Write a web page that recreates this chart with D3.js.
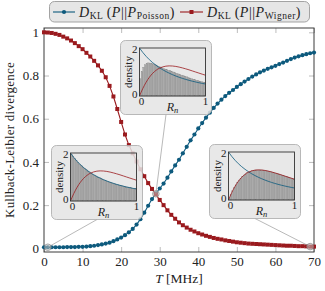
<!DOCTYPE html>
<html><head><meta charset="utf-8">
<script src="https://cdn.jsdelivr.net/npm/d3@7"></script>
<style>body{margin:0;background:#fff}svg{display:block}</style>
</head><body><svg id="c" width="325" height="291"></svg>
<script>
// ---- data ----
const temps = d3.range(0, 71); // T [MHz], step 1
const klPoisson = [0.005,0.005,0.005,0.005,0.005,0.005,0.006,0.006,0.006,0.007,0.007,0.008,0.010,0.012,0.015,0.018,0.022,0.026,0.033,0.041,0.050,0.061,0.074,0.090,0.110,0.135,0.165,0.197,0.228,0.255,0.277,0.300,0.327,0.356,0.384,0.410,0.440,0.470,0.500,0.527,0.555,0.580,0.605,0.628,0.650,0.670,0.688,0.705,0.720,0.733,0.747,0.760,0.772,0.784,0.795,0.805,0.815,0.823,0.831,0.838,0.845,0.853,0.860,0.868,0.876,0.883,0.889,0.894,0.899,0.903,0.906];
const klWigner = [1.000,0.999,0.997,0.993,0.988,0.980,0.972,0.962,0.950,0.936,0.922,0.905,0.888,0.868,0.847,0.822,0.792,0.752,0.703,0.645,0.585,0.527,0.478,0.440,0.402,0.366,0.334,0.302,0.275,0.250,0.224,0.200,0.176,0.155,0.137,0.120,0.107,0.096,0.086,0.078,0.070,0.064,0.058,0.053,0.048,0.044,0.041,0.037,0.034,0.031,0.028,0.026,0.024,0.022,0.021,0.020,0.019,0.018,0.017,0.016,0.015,0.014,0.013,0.012,0.012,0.011,0.010,0.010,0.009,0.008,0.008];
const xTicks = [0,10,20,30,40,50,60,70];
const yTicks = [0,0.2,0.4,0.6,0.8,1];
const yTickLabels = ["0","0.2","0.4","0.6","0.8","1"];
// inset densities
const rGrid = [0,0.05,0.1,0.15,0.2,0.25,0.3,0.35,0.4,0.45,0.5,0.55,0.6,0.65,0.7,0.75,0.8,0.85,0.9,0.95,1];
const poissonDensity = [2,1.814,1.653,1.512,1.389,1.28,1.183,1.097,1.02,0.951,0.889,0.833,0.781,0.735,0.692,0.653,0.617,0.584,0.554,0.526,0.5];
const wignerDensity = [0,0.312,0.572,0.782,0.946,1.069,1.156,1.212,1.244,1.255,1.25,1.232,1.205,1.171,1.132,1.09,1.045,1.0,0.955,0.91,0.866];
const histT1 = [1.95,1.87,1.77,1.69,1.62,1.54,1.48,1.42,1.36,1.31,1.25,1.21,1.16,1.12,1.08,1.04,1.00,0.97,0.93,0.90,0.87,0.85,0.82,0.79,0.77,0.75,0.72,0.70,0.68,0.66,0.64,0.63,0.61,0.59,0.58,0.56,0.55,0.53,0.52,0.51];
const histT29 = [0.72,1.02,1.20,1.30,1.36,1.38,1.37,1.35,1.33,1.30,1.27,1.24,1.21,1.18,1.15,1.12,1.10,1.07,1.05,1.02,1.00,0.97,0.95,0.92,0.90,0.87,0.85,0.82,0.80,0.77,0.75,0.72,0.70,0.68,0.66,0.64,0.62,0.60,0.58,0.56];
const histT69 = [0.08,0.24,0.38,0.51,0.63,0.73,0.83,0.91,0.98,1.04,1.09,1.14,1.17,1.20,1.22,1.24,1.25,1.25,1.25,1.25,1.25,1.24,1.23,1.21,1.20,1.18,1.16,1.14,1.12,1.10,1.08,1.06,1.03,1.01,0.99,0.97,0.94,0.92,0.90,0.88];
const insetTemps = [1, 29, 69];

// ---- styles ----
const FONT = "'Liberation Serif', 'Times New Roman', serif";
const BLUE = "#0d5a7d", RED = "#9a1a1e";
const svg = d3.select("#c");
const x = d3.scaleLinear().domain([0,70]).range([44,314]);
const y = d3.scaleLinear().domain([-0.017,1.02]).range([252,28]);

function styleAxis(g){ g.attr("font-family",null).attr("font-size",null); g.select(".domain").remove(); g.selectAll(".tick line").attr("stroke","#bdbdbd"); g.selectAll("text").style("font-family",FONT).style("font-size","13px").attr("fill","#222"); }
svg.append("g").attr("transform","translate(0,252)").call(d3.axisBottom(x).tickValues(xTicks).tickSizeInner(-5).tickSizeOuter(0).tickPadding(5)).call(styleAxis);
svg.append("g").attr("transform","translate(0,28)").call(d3.axisTop(x).tickValues(xTicks).tickSizeInner(-5).tickSizeOuter(0).tickFormat("")).call(styleAxis);
svg.append("g").attr("transform","translate(44,0)").call(d3.axisLeft(y).tickValues(yTicks).tickFormat((d,i)=>yTickLabels[i]).tickSizeInner(-5).tickSizeOuter(0).tickPadding(5)).call(styleAxis);
svg.append("g").attr("transform","translate(314,0)").call(d3.axisRight(y).tickValues(yTicks).tickSizeInner(-5).tickSizeOuter(0).tickFormat("")).call(styleAxis);
svg.append("rect").attr("x",44).attr("y",28).attr("width",270).attr("height",224).attr("fill","none").attr("stroke","#3a3a3a").attr("stroke-width",1);

function txt(sel){ return sel.append("text").style("font-family",FONT).attr("fill","#222"); }
txt(svg).attr("x",179).attr("y",283).attr("text-anchor","middle").style("font-size","13.5px")
  .call(t=>{t.append("tspan").style("font-style","italic").text("T"); t.append("tspan").text(" [MHz]");});
const yl = txt(svg).attr("transform","translate(13.5,140) rotate(-90)").attr("text-anchor","middle").style("font-size","13px").text("Kullback-Leibler divergence");
{ const w = yl.node().getComputedTextLength(); if (w > 0 && w < 156) yl.style("letter-spacing", ((156-w)/27)+"px"); }

// series
const line = d3.line().x((d,i)=>x(temps[i])).y(d=>y(d));
svg.append("path").datum(klPoisson).attr("d",line).attr("fill","none").attr("stroke",BLUE).attr("stroke-width",1.1);
svg.append("g").selectAll("circle").data(klPoisson).join("circle").attr("cx",(d,i)=>x(temps[i])).attr("cy",d=>y(d)).attr("r",2.1).attr("fill",BLUE);
svg.append("path").datum(klWigner).attr("d",line).attr("fill","none").attr("stroke",RED).attr("stroke-width",1.1);
svg.append("g").selectAll("rect").data(klWigner).join("rect").attr("x",(d,i)=>x(temps[i])-2).attr("y",d=>y(d)-2).attr("width",4).attr("height",4).attr("fill",RED);

// legend
function legendText(g, x0, sub, target){
  const t = txt(g).attr("x",x0).attr("y",16.5).style("font-size","14px");
  t.append("tspan").style("font-style","italic").text("D");
  t.append("tspan").attr("dy",2.5).style("font-size","9.5px").text("KL");
  t.append("tspan").attr("dy",-2.5).text("\u2009(");
  t.append("tspan").style("font-style","italic").text("P");
  t.append("tspan").text("||");
  t.append("tspan").style("font-style","italic").text("P");
  t.append("tspan").attr("dy",2.5).style("font-size","9.5px").text(sub);
  t.append("tspan").attr("dy",-2.5).text(")");
  const w = t.node().getComputedTextLength();
  const n = t.text().length;
  if (w > 0 && w < target) t.style("letter-spacing", ((target-w)/n)+"px");
}
const lg = svg.append("g");
lg.append("rect").attr("x",49.5).attr("y",1.5).attr("width",260).attr("height",20.5).attr("rx",5).attr("fill","#e6e6e6").attr("stroke","#9a9a9a").attr("stroke-width",0.9);
lg.append("line").attr("x1",53).attr("x2",75).attr("y1",12).attr("y2",12).attr("stroke",BLUE).attr("stroke-width",1.1);
lg.append("circle").attr("cx",64).attr("cy",12).attr("r",2.1).attr("fill",BLUE);
legendText(lg, 79, "Poisson", 96);
lg.append("line").attr("x1",180).attr("x2",203).attr("y1",12).attr("y2",12).attr("stroke",RED).attr("stroke-width",1.1);
lg.append("rect").attr("x",189.5).attr("y",10).attr("width",4).attr("height",4).attr("fill",RED);
legendText(lg, 207, "Wigner", 94);

// insets
const insetBoxes = [[51.5,145.5],[120.5,40.5],[209.5,144.5]];
const insetHists = [histT1, histT29, histT69];
function drawInset(k){
  const [bx,by] = insetBoxes[k], hist = insetHists[k], T = insetTemps[k];
  const ti = temps.indexOf(T);
  const px = x(T);
  const val = T===29 ? (klPoisson[ti]+klWigner[ti])/2 : (T<10 ? klPoisson[ti] : klWigner[ti]);
  const cy = y(val);
  svg.append("line").attr("x1",bx+45.5).attr("y1",by+74).attr("x2",px).attr("y2",cy).attr("stroke","#8a8a8a").attr("stroke-width",0.6);
  svg.append("circle").attr("cx",px).attr("cy",cy).attr("r",3.3).attr("fill","rgba(200,200,200,0.5)").attr("stroke","#888").attr("stroke-width",0.7);
  const g = svg.append("g");
  g.append("rect").attr("x",bx).attr("y",by).attr("width",91).attr("height",74).attr("rx",5).attr("fill","#e4e4e4").attr("fill-opacity",0.85).attr("stroke","#a8a8a8").attr("stroke-width",0.8);
  const ix = bx+19, iy = by+7.5, iw = 66, ih = 48;
  const xs = d3.scaleLinear().domain([0,1]).range([ix,ix+iw]);
  const ys = d3.scaleLinear().domain([0,2]).range([iy+ih,iy]);
  const n = hist.length;
  g.append("g").selectAll("rect").data(hist).join("rect")
    .attr("x",(d,i)=>xs(i/n)).attr("width",xs(1/n)-xs(0)).attr("y",d=>ys(d)).attr("height",d=>ys(0)-ys(d))
    .attr("fill","#ababab").attr("stroke","#8c8c8c").attr("stroke-width",0.35);
  const cl = d3.line().x((d,i)=>xs(rGrid[i])).y(d=>ys(d)).curve(d3.curveMonotoneX);
  g.append("path").datum(poissonDensity).attr("d",cl).attr("fill","none").attr("stroke",BLUE).attr("stroke-width",0.8);
  g.append("path").datum(wignerDensity).attr("d",cl).attr("fill","none").attr("stroke",RED).attr("stroke-width",0.8);
  g.append("rect").attr("x",ix).attr("y",iy).attr("width",iw).attr("height",ih).attr("fill","none").attr("stroke","#333").attr("stroke-width",0.9);
  const fs = "11px";
  txt(g).attr("x",ix-2).attr("y",iy+5).attr("text-anchor","end").style("font-size",fs).text("2");
  txt(g).attr("x",ix-2).attr("y",iy+ih+2).attr("text-anchor","end").style("font-size",fs).text("0");
  txt(g).attr("x",xs(0)+2).attr("y",iy+ih+8.5).attr("text-anchor","middle").style("font-size",fs).text("0");
  txt(g).attr("x",xs(1)).attr("y",iy+ih+8.5).attr("text-anchor","middle").style("font-size",fs).text("1");
  txt(g).attr("transform",`translate(${bx+11},${iy+ih/2}) rotate(-90)`).attr("text-anchor","middle").style("font-size","11px").text("density");
  txt(g).attr("x",(ix+ix+iw)/2).attr("y",iy+ih+14.5).attr("text-anchor","middle").style("font-size","12px")
    .call(t=>{t.append("tspan").style("font-style","italic").text("R"); t.append("tspan").attr("dy",2).style("font-size","8.5px").style("font-style","italic").text("n");});
}
[0,1,2].forEach(drawInset);
</script></body></html>
